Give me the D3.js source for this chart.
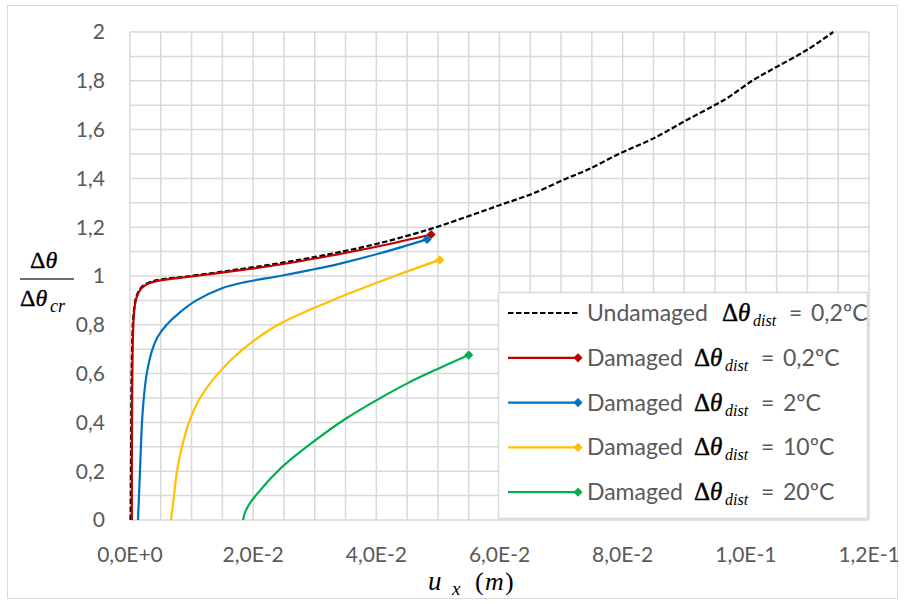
<!DOCTYPE html>
<html>
<head>
<meta charset="utf-8">
<script src="https://cdn.jsdelivr.net/npm/d3@7"></script>
<style>
  body { margin: 0; background: #fff; }
  svg { display: block; }
  .tick-label { font-family: Lato, "Open Sans", sans-serif; font-size: 21px; fill: #595959; }
  .math { font-family: "Liberation Serif", "DejaVu Serif", serif; font-style: italic; fill: #000; }
  .legend-text { font-family: Lato, "Open Sans", sans-serif; font-size: 23px; fill: #595959; }
</style>
</head>
<body>
<svg id="chart"></svg>
<script>
const width = 904;
const height = 604;

// x: horizontal displacement u_x (m), y: Δθ / Δθcr
const undamaged = [
    [0.0001, 0], [0.0002, 0.35], [0.0003, 0.65], [0.0006, 0.85], [0.0011, 0.92],
    [0.0019, 0.955], [0.0033, 0.975], [0.0054, 0.987], [0.0092, 0.998], [0.0167, 1.024],
    [0.0244, 1.053], [0.0325, 1.090], [0.0406, 1.135], [0.0487, 1.192], [0.0547, 1.243],
    [0.0601, 1.291], [0.0655, 1.339], [0.0709, 1.400], [0.0742, 1.434], [0.0796, 1.503],
    [0.0850, 1.564], [0.0904, 1.639], [0.0947, 1.697], [0.0969, 1.728], [0.1012, 1.803],
    [0.1050, 1.857], [0.1099, 1.926], [0.1142, 2.0]
];
const damaged02 = [
    [0.0003, 0], [0.00035, 0.5], [0.00065, 0.848], [0.0011, 0.914], [0.0019, 0.951],
    [0.0032, 0.971], [0.0054, 0.984], [0.0093, 0.996], [0.0167, 1.020], [0.0244, 1.047],
    [0.0325, 1.083], [0.0406, 1.123], [0.0489, 1.170]
];
const damaged2 = [
    [0.0013, 0], [0.00162, 0.2], [0.00195, 0.4], [0.00224, 0.5], [0.00272, 0.6],
    [0.00365, 0.7], [0.00448, 0.75], [0.00595, 0.8], [0.00805, 0.85], [0.01078, 0.9],
    [0.01494, 0.95], [0.01867, 0.975], [0.02436, 1.0], [0.0292, 1.024], [0.0343, 1.052],
    [0.0406, 1.093], [0.04823, 1.150]
];
const damaged10 = [
    [0.00666, 0], [0.00715, 0.1], [0.00763, 0.2], [0.00844, 0.3], [0.00958, 0.4],
    [0.01137, 0.5], [0.01429, 0.6], [0.01835, 0.7], [0.02403, 0.8], [0.0328, 0.9],
    [0.0430, 1.0], [0.0503, 1.066]
];
const damaged20 = [
    [0.01835, 0], [0.01867, 0.03], [0.0195, 0.07], [0.0216, 0.135], [0.0232, 0.18],
    [0.0248, 0.220], [0.0300, 0.325], [0.0352, 0.418], [0.0401, 0.492], [0.0451, 0.561],
    [0.0503, 0.623], [0.0550, 0.676]
];

const seriesNames = ["Undamaged", "Damaged", "Damaged", "Damaged", "Damaged"];
const distLabels = ["0,2ºC", "0,2ºC", "2ºC", "10ºC", "20ºC"];
const seriesColors = ["#000000", "#C00000", "#0070C0", "#FFC000", "#00B050"];
const seriesData = [undamaged, damaged02, damaged2, damaged10, damaged20];

const xLabelTicks = [0, 0.02, 0.04, 0.06, 0.08, 0.10, 0.12];
const yLabelTicks = [0, 0.2, 0.4, 0.6, 0.8, 1, 1.2, 1.4, 1.6, 1.8, 2];

const margin = { left: 130, right: 35, top: 32, bottom: 84 };

const x = d3.scaleLinear().domain([0, 0.12]).range([margin.left, width - margin.right]);
const y = d3.scaleLinear().domain([0, 2]).range([height - margin.bottom, margin.top]);

const svg = d3.select("#chart")
    .attr("width", width)
    .attr("height", height);

// outer chart border
svg.append("rect")
    .attr("x", 7.5).attr("y", 5.5)
    .attr("width", 890).attr("height", 593)
    .attr("fill", "#fff")
    .attr("stroke", "#d9d9d9")
    .attr("stroke-width", 1);

// gridlines
const grid = svg.append("g").attr("stroke", "#d9d9d9").attr("stroke-width", 1.5);
grid.selectAll(".vgrid")
    .data(d3.range(0, 24.5).map(i => i * 0.005))
    .enter().append("line")
    .attr("x1", d => x(d)).attr("x2", d => x(d))
    .attr("y1", y(0)).attr("y2", y(2));
grid.selectAll(".hgrid")
    .data(d3.range(0, 20.5).map(i => i * 0.1))
    .enter().append("line")
    .attr("x1", x(0)).attr("x2", x(0.12))
    .attr("y1", d => y(d)).attr("y2", d => y(d));

// tick labels
const fmtX = d => d3.format(".1e")(d).replace(".", ",").replace("e", "E");
const fmtY = d => String(+d.toFixed(1)).replace(".", ",");

svg.selectAll(".xlabel")
    .data(xLabelTicks)
    .enter().append("text")
    .attr("class", "tick-label")
    .attr("x", d => x(d))
    .attr("y", 562)
    .attr("text-anchor", "middle")
    .text(fmtX);

svg.selectAll(".ylabel")
    .data(yLabelTicks)
    .enter().append("text")
    .attr("class", "tick-label")
    .attr("x", 105)
    .attr("y", d => y(d))
    .attr("dy", "0.35em")
    .attr("text-anchor", "end")
    .text(fmtY);

// curves
const line = d3.line().x(d => x(d[0])).y(d => y(d[1])).curve(d3.curveCatmullRom.alpha(0.5));
const diamond = d3.symbol().type(d3.symbolSquare).size(42);

// dashed undamaged curve first, damaged curves over it
svg.append("path")
    .attr("d", line(undamaged))
    .attr("fill", "none")
    .attr("stroke", "#000")
    .attr("stroke-width", 2.2)
    .attr("stroke-dasharray", "5.5,2.5");

seriesData.forEach((data, i) => {
    if (i === 0) return;
    svg.append("path")
        .attr("d", line(data))
        .attr("fill", "none")
        .attr("stroke", seriesColors[i])
        .attr("stroke-width", 2.2);
    const last = data[data.length - 1];
    svg.append("path")
        .attr("d", diamond())
        .attr("transform", `translate(${x(last[0])},${y(last[1])}) rotate(45)`)
        .attr("fill", seriesColors[i]);
});

// legend
const legend = svg.append("g");
legend.append("rect")
    .attr("x", 498.5).attr("y", 292.5)
    .attr("width", 369).attr("height", 226)
    .attr("fill", "#fff")
    .attr("stroke", "#d9d9d9")
    .attr("stroke-width", 1.5);

const rowY = i => 313 + i * 44.8;
seriesNames.forEach((name, i) => {
    const ly = rowY(i);
    const g = legend.append("g");
    g.append("line")
        .attr("x1", 508).attr("x2", 578)
        .attr("y1", ly).attr("y2", ly)
        .attr("stroke", seriesColors[i])
        .attr("stroke-width", 2.2)
        .attr("stroke-dasharray", i === 0 ? "5.5,2.5" : null);
    if (i > 0) {
        g.append("path")
            .attr("d", diamond())
            .attr("transform", `translate(578,${ly}) rotate(45)`)
            .attr("fill", seriesColors[i]);
    }
    const off = i === 0 ? 28 : 0;
    g.append("text").attr("class", "legend-text")
        .attr("x", 587).attr("y", ly + 8).text(name);
    const m = g.append("text").attr("class", "math").attr("x", 694 + off).attr("y", ly + 8)
        .style("font-size", "25px").attr("stroke", "#000").attr("stroke-width", 0.4);
    m.append("tspan").style("font-style", "normal").text("Δ");
    m.append("tspan").text("θ");
    g.append("text").attr("class", "math")
        .attr("x", 725 + off).attr("y", ly + 13)
        .style("font-size", "16px")
        .text("dist");
    g.append("text").attr("class", "legend-text")
        .attr("x", 761 + off).attr("y", ly + 8).text("=");
    g.append("text").attr("class", "legend-text")
        .attr("x", 783 + off).attr("y", ly + 8).text(distLabels[i]);
});

// y axis title: Δθ / Δθcr
const yt = svg.append("g");
const num = yt.append("text").attr("class", "math").attr("x", 30).attr("y", 268)
    .style("font-size", "24px").attr("stroke", "#000").attr("stroke-width", 0.3);
num.append("tspan").style("font-style", "normal").text("Δ");
num.append("tspan").text("θ");
yt.append("line").attr("x1", 20).attr("x2", 74).attr("y1", 279).attr("y2", 279)
    .attr("stroke", "#404040").attr("stroke-width", 1.5);
const den = yt.append("text").attr("class", "math").attr("x", 20).attr("y", 306)
    .style("font-size", "24px").attr("stroke", "#000").attr("stroke-width", 0.3);
den.append("tspan").style("font-style", "normal").text("Δ");
den.append("tspan").text("θ");
yt.append("text").attr("class", "math").attr("x", 50).attr("y", 312).style("font-size", "18px").text("cr");

// x axis title: u_x (m)
svg.append("text").attr("class", "math").attr("x", 428).attr("y", 590).style("font-size", "27px").text("u");
svg.append("text").attr("class", "math").attr("x", 452).attr("y", 595).style("font-size", "19px").text("x");
svg.append("text").attr("class", "math").attr("x", 475).attr("y", 590).style("font-size", "26px")
    .style("font-style", "normal").text("(");
svg.append("text").attr("class", "math").attr("x", 485).attr("y", 590).style("font-size", "26px").text("m");
svg.append("text").attr("class", "math").attr("x", 505).attr("y", 590).style("font-size", "26px")
    .style("font-style", "normal").text(")");
</script>
</body>
</html>
